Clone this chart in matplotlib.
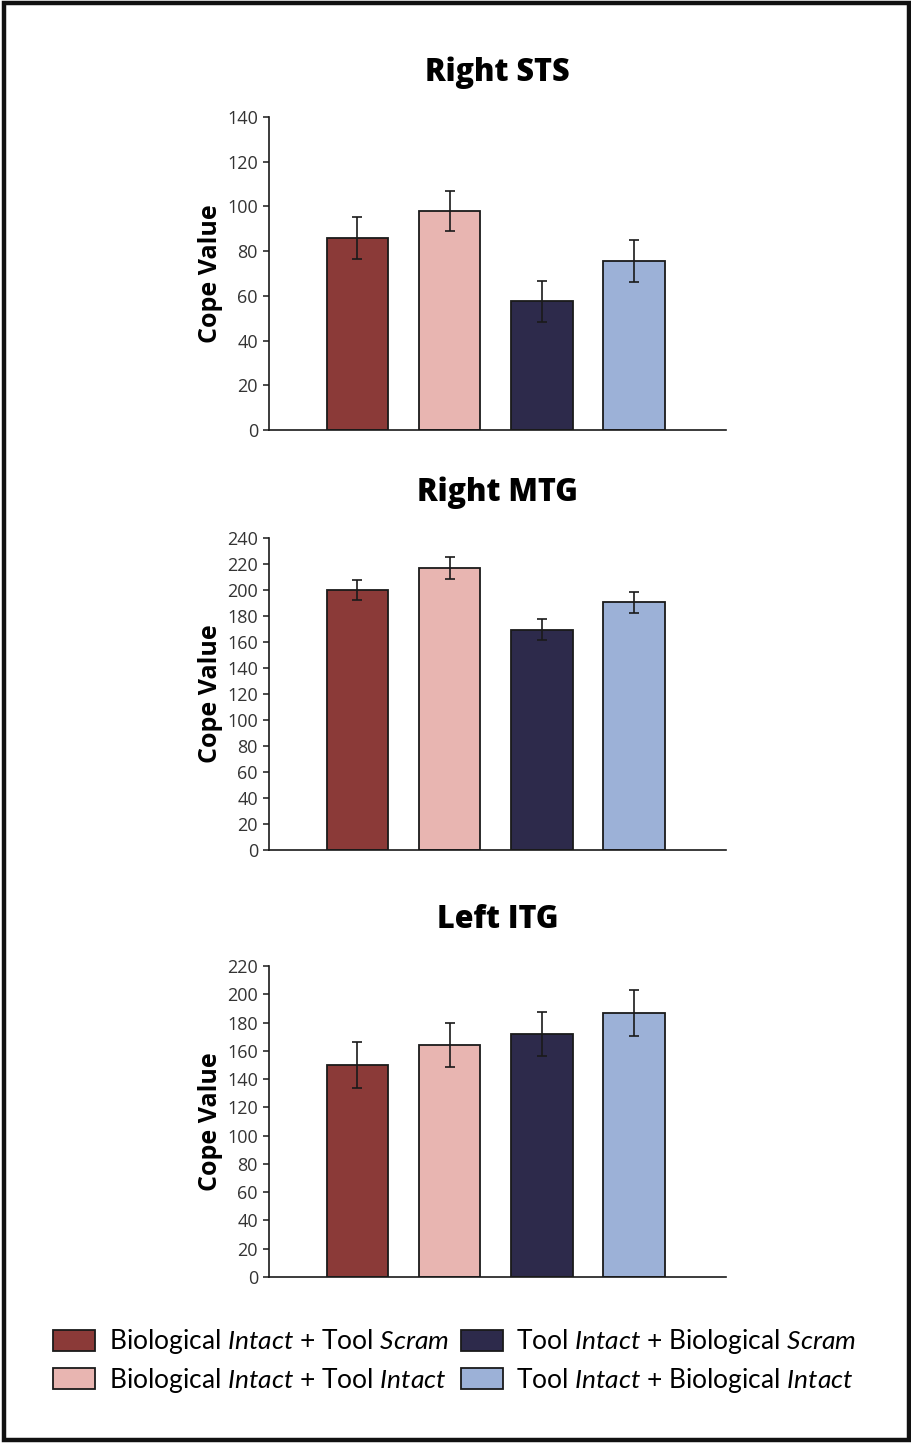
import numpy as np
import matplotlib
matplotlib.use("Agg")
import matplotlib.pyplot as plt
from matplotlib.patches import Rectangle

plt.rcParams['font.family'] = ['Open Sans', 'DejaVu Sans']
plt.rcParams['mathtext.fontset'] = 'custom'
plt.rcParams['mathtext.rm'] = 'Lato'
plt.rcParams['mathtext.it'] = 'Lato:italic'

# data
regions = ["Right STS", "Right MTG", "Left ITG"]
sts_vals = [86, 98, 57.5, 75.5]
sts_err = [9.3, 9.0, 9.0, 9.3]
mtg_vals = [200, 217, 169.5, 190.5]
mtg_err = [8, 8.3, 8, 8.3]
itg_vals = [150, 164, 172, 186.5]
itg_err = [16, 15.8, 15.8, 16.3]
ylims = [140, 240, 220]
ysteps = [20, 20, 20]

labels = [r"Biological $\mathit{Intact}$ + Tool $\mathit{Scram}$",
          r"Biological $\mathit{Intact}$ + Tool $\mathit{Intact}$",
          r"Tool $\mathit{Intact}$ + Biological $\mathit{Scram}$",
          r"Tool $\mathit{Intact}$ + Biological $\mathit{Intact}$"]
colors = ["#8B3A38", "#E8B5B1", "#2D2A4B", "#9CB1D7"]

vals_all = [sts_vals, mtg_vals, itg_vals]
errs_all = [sts_err, mtg_err, itg_err]

W, H = 911, 1443
fig = plt.figure(figsize=(W / 100, H / 100), dpi=100)

# axes boxes in pixels: (left, right, top, bottom)
boxes = [(269, 726, 117, 430), (269, 726, 538, 850), (269, 726, 966, 1277)]
title_y = [73, 493, 920]

x = np.arange(4)
bars_for_legend = None
for i, (l, r, t, b) in enumerate(boxes):
    ax = fig.add_axes([l / W, 1 - b / H, (r - l) / W, (b - t) / H])
    bars = ax.bar(x, vals_all[i], width=0.67, color=colors, edgecolor="#1a1a1a",
                  linewidth=1.3, yerr=errs_all[i], capsize=3.5,
                  error_kw=dict(ecolor="#1a1a1a", elinewidth=1.2, capthick=1.2))
    if bars_for_legend is None:
        bars_for_legend = bars
    ax.set_xlim(-0.96, 4.0)
    ax.set_ylim(0, ylims[i])
    ax.set_yticks(np.arange(0, ylims[i] + 1, ysteps[i]))
    ax.set_xticks([])
    ax.spines['top'].set_visible(False)
    ax.spines['right'].set_visible(False)
    for s in ['left', 'bottom']:
        ax.spines[s].set_linewidth(1.2)
        ax.spines[s].set_color("#1a1a1a")
    ax.tick_params(axis='y', direction='out', length=4, width=1.1, labelsize=13,
                   colors="#1a1a1a", pad=4)
    for lab in ax.get_yticklabels():
        lab.set_color("#333333")
    ax.set_ylabel("Cope Value", fontsize=18, fontweight='bold', labelpad=3)
    fig.text((l + r) / 2 / W, 1 - title_y[i] / H, regions[i], ha='center', va='center',
             fontsize=22, fontweight=800)

handles = [bars_for_legend[k] for k in [0, 1, 2, 3]]
leg = fig.legend(handles, labels, ncol=2, loc='center left',
                 bbox_to_anchor=(40 / W, 1 - 1361 / H), frameon=False,
                 prop={'family': 'Lato', 'size': 19}, handlelength=1.6,
                 handleheight=0.85, handletextpad=0.5, columnspacing=0.45,
                 labelspacing=0.35, borderpad=0)

# outer frame
fig.patches.append(Rectangle((4 / W, 3 / H), (909 - 4) / W, (1440 - 3) / H,
                             transform=fig.transFigure, fill=False,
                             edgecolor="#111111", linewidth=3.2))

fig.savefig("out.png", dpi=100)
